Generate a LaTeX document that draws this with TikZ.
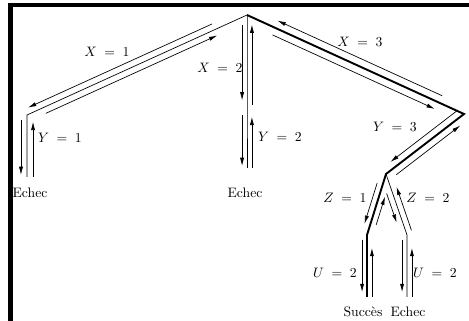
\documentclass[tikz,border=0pt]{standalone}
\usetikzlibrary{calc,arrows.meta}
\tikzset{
  edge/.style={line width=0.5pt},
  thickedge/.style={line width=1.4pt},
  travel/.style={line width=0.5pt,-{Latex[length=6pt,width=3pt]}},
  lbl/.style={inner sep=0pt},
  frame/.style={line width=3pt}
}
\newcommand{\travarrow}[5]{%
  \draw[travel,shorten <=#4,shorten >=#5] ($(#1)!#3!-90:(#2)$) -- ($(#2)!#3!90:(#1)$);}
\begin{document}
\begin{tikzpicture}[x=0.73pt,y=-0.73pt]
\clip (0,0) rectangle (469,321);
\draw[frame] (10.5,500) -- (10.5,5) -- (700,5);
% tree vertices
\coordinate (r) at (247,15);
\coordinate (a1) at (27,115);
\coordinate (a2) at (27,177);
\coordinate (b1) at (247,110);
\coordinate (b2) at (247,168);
\coordinate (c1) at (464,114);
\coordinate (c2) at (386,174);
\coordinate (d1) at (367,235);
\coordinate (d2) at (367,297);
\coordinate (e1) at (407,235);
\coordinate (e2) at (407,297);
% edges
\draw[edge] (r) -- (a1) -- (a2);
\draw[edge] (r) -- (b1) -- (b2);
\draw[thickedge] (r) -- (c1) -- (c2) -- (d1) -- (d2);
\draw[edge] (c2) -- (e1) -- (e2);
% travel arrows
\travarrow{r}{a1}{4.6pt}{26pt}{3pt}
\travarrow{a1}{r}{4.6pt}{13pt}{26pt}
\travarrow{r}{b1}{3.6pt}{7pt}{7pt}
\travarrow{b1}{r}{3.6pt}{3.6pt}{7pt}
\travarrow{b1}{b2}{3.6pt}{3.6pt}{1.5pt}
\travarrow{b2}{b1}{3.6pt}{0pt}{5pt}
\travarrow{a1}{a2}{4.4pt}{3.6pt}{1.5pt}
\travarrow{a2}{a1}{4.4pt}{0pt}{5pt}
\travarrow{r}{c1}{5.5pt}{23pt}{21pt}
\travarrow{c1}{r}{5.5pt}{20pt}{22pt}
\travarrow{c1}{c2}{5pt}{3pt}{8pt}
\travarrow{c2}{c1}{5pt}{5.6pt}{7.3pt}
\travarrow{c2}{d1}{4.2pt}{8.2pt}{7.3pt}
\travarrow{d1}{c2}{4.2pt}{9pt}{16pt}
\travarrow{c2}{e1}{4.2pt}{13.6pt}{11pt}
\travarrow{e1}{c2}{4.2pt}{2.2pt}{11.4pt}
\travarrow{d1}{d2}{3.6pt}{3.6pt}{3.6pt}
\travarrow{d2}{d1}{3.6pt}{0pt}{9.5pt}
\travarrow{e1}{e2}{3.6pt}{3.6pt}{3.6pt}
\travarrow{e2}{e1}{3.6pt}{0pt}{9.5pt}
% labels
\node[lbl] (lx1) at (107,52) {$X \;=\; 1$};
\node[lbl] (lx2) at (220,68) {$X \;=\; 2$};
\node[lbl] (lx3) at (360,42) {$X \;=\; 3$};
\node[lbl] (ly1) at (60,138) {$Y \;=\; 1$};
\node[lbl] (ly2) at (280,137) {$Y \;=\; 2$};
\node[lbl] (ly3) at (395,127) {$Y \;=\; 3$};
\node[lbl] (lz1) at (345,198) {$Z \;=\; 1$};
\node[lbl] (lz2) at (428,198) {$Z \;=\; 2$};
\node[lbl] (lu1) at (335,273) {$U \;=\; 2$};
\node[lbl] (lu2) at (435,273) {$U \;=\; 2$};
\node[lbl] (ea) at (30,193) {Echec};
\node[lbl] (eb) at (245,193) {Echec};
\node[lbl] (sd) at (363,312) {Succès};
\node[lbl] (ee) at (408,312) {Echec};
\end{tikzpicture}
\end{document}
